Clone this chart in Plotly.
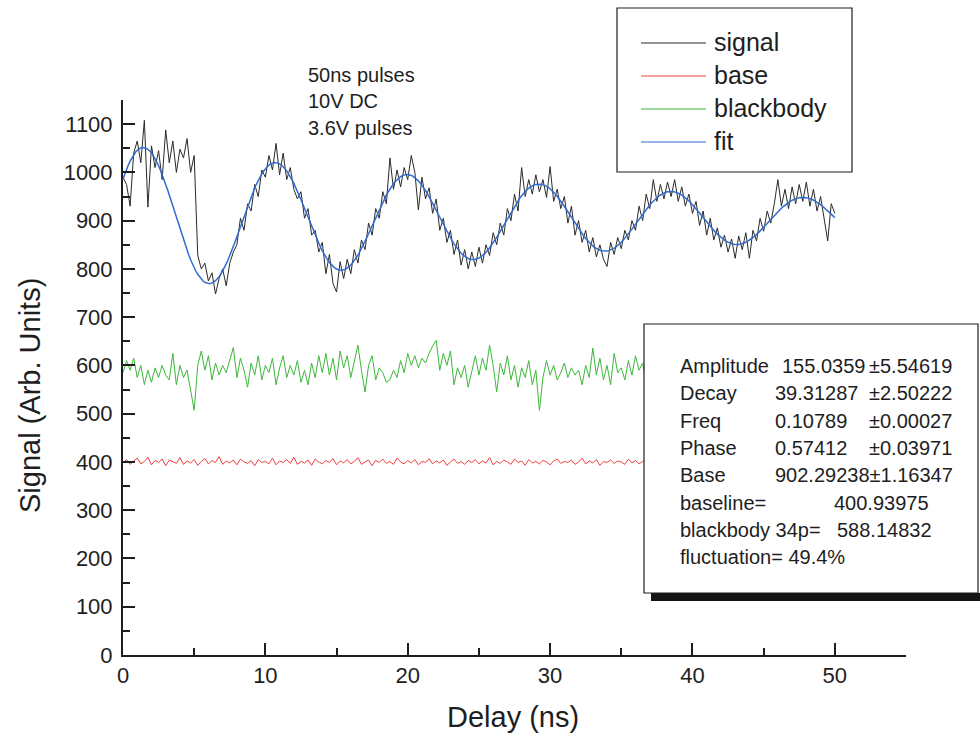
import numpy as np
import plotly.graph_objects as go

# ---- measured traces (sample spacing 0.25 ns) ----
STEP_NS = 0.25

signal = [
    990, 975, 930, 1040, 1065, 1020, 1108, 928, 1055, 1010,
    1045, 985, 1088, 1020, 1065, 1000, 1048, 1030, 1070, 1000,
    1035, 828, 800, 812, 775, 792, 748, 780, 800, 765,
    812, 835, 850, 905, 880, 935, 920, 975, 950, 1005,
    990, 1035, 1005, 1060, 995, 1040, 985, 1010, 965, 945,
    960, 905, 925, 870, 880, 835, 855, 790, 830, 770,
    752, 815, 780, 820, 790, 840, 812, 860, 840, 895,
    870, 925, 905, 960, 935, 1030, 965, 1005, 970, 1010,
    985, 1035, 1000, 922, 990, 945, 968, 915, 945, 880,
    905, 855, 880, 830, 860, 808, 840, 800, 835, 805,
    845, 812, 850, 828, 875, 850, 895, 870, 925, 900,
    955, 920, 1010, 950, 985, 955, 995, 960, 985, 948,
    1012, 940, 965, 925, 950, 895, 930, 870, 900, 855,
    880, 835, 865, 825, 850, 820, 805, 855, 830, 865,
    842, 880, 860, 900, 880, 930, 900, 955, 925, 985,
    940, 975, 945, 980, 950, 985, 940, 970, 930, 955,
    915, 940, 890, 920, 870, 905, 860, 885, 845, 870,
    835, 862, 822, 868, 840, 875, 822, 880, 858, 905,
    878, 920, 895, 935, 985, 930, 965, 925, 970, 935,
    975, 940, 980, 930, 965, 920, 950, 905, 858, 935,
    915,
]

base = [
    398, 405, 395, 402, 408, 396, 401, 410, 394, 403, 399, 406, 392, 404, 400, 397, 409, 395, 402, 398,
    405, 393, 401, 407, 396, 403, 399, 411, 395, 402, 398, 404, 394, 406, 400, 397, 403, 392, 405, 399,
    401, 396, 408, 394, 402, 399, 405, 397, 410, 395, 401, 398, 404, 393, 406, 400, 396, 403, 399, 407,
    394, 402, 398, 405, 396, 401, 409, 395, 400, 404, 392, 403, 399, 406, 397, 401, 395, 408, 400, 396,
    403, 398, 405, 394, 401, 399, 407, 396, 402, 398, 404, 393, 400, 406, 397, 401, 395, 403, 399, 405,
    396, 402, 398, 409, 394, 401, 397, 404, 400, 395, 406, 399, 402, 393, 405, 398, 401, 396, 403, 400,
    394, 402, 406, 397, 401, 399, 404, 395, 400, 408, 396, 402, 398, 405, 393, 401, 399, 404, 397, 402,
    400, 395, 406, 398, 403, 396, 401, 405, 394, 402, 399, 404, 397,
]

blackbody = [
    585, 610, 590, 615, 575, 600, 560, 590, 565, 595, 575, 600, 580, 570, 625, 560, 600, 575, 590, 545,
    507, 600, 630, 590, 620, 570, 605, 580, 600, 585, 610, 637, 575, 615, 590, 555, 605, 580, 620, 570,
    600, 585, 615, 560, 595, 620, 575, 600, 580, 610, 565, 590, 560, 605, 575, 620, 585, 625, 580, 615,
    570, 630, 595, 620, 575, 610, 642, 590, 545, 600, 620, 570, 595, 585, 565, 570, 590, 575, 610, 585,
    625, 600, 620, 595, 615, 605, 625, 640, 652, 590, 625, 600, 630, 560, 595, 575, 600, 555, 590, 620,
    580, 615, 590, 642, 600, 545, 605, 580, 620, 570, 600, 555, 595, 575, 610, 560, 590, 507, 575, 610,
    580, 600, 570, 585, 605, 575, 595, 580, 590, 560, 600, 575, 636, 580, 615, 570, 600, 560, 625, 585,
    595, 570, 610, 580, 620, 590, 605, 565, 600, 580, 615, 590, 600,
]

# ---- fit results (damped sine) ----
AMPLITUDE = 155.0359
DECAY = 39.31287
FREQ = 0.10789
PHASE = 0.57412
BASE_LEVEL = 902.29238
BASELINE = 400.93975
BLACKBODY_34P = 588.14832

stats_rows = [
    ("Amplitude", "155.0359", "±5.54619"),
    ("Decay", "39.31287", "±2.50222"),
    ("Freq", "0.10789", "±0.00027"),
    ("Phase", "0.57412", "±0.03971"),
    ("Base", "902.29238±1.16347", ""),
]
extra_rows = [
    ("baseline=", "400.93975"),
    ("blackbody 34p=", "588.14832"),
    ("fluctuation= 49.4%", ""),
]
note_lines = ["50ns pulses", "10V DC", "3.6V pulses"]
legend_names = ["signal", "base", "blackbody", "fit"]

t_sig = np.arange(len(signal)) * STEP_NS
t_base = np.arange(len(base)) * STEP_NS
t_bb = np.arange(len(blackbody)) * STEP_NS
t_fit = np.linspace(0, 50, 401)
fit = BASE_LEVEL + AMPLITUDE * np.exp(-t_fit / DECAY) * np.sin(2 * np.pi * FREQ * t_fit + PHASE)

COL_SIG = "#2a2a2a"
COL_BASE = "#f0403c"
COL_BB = "#3cb83a"
COL_FIT = "#2f6bd0"
FONT = "Liberation Sans, Arial, sans-serif"
INK = "#1e1e1e"

fig = go.Figure()
fig.add_trace(go.Scatter(x=t_base, y=base, mode="lines", name="base",
                         line=dict(color=COL_BASE, width=1)))
fig.add_trace(go.Scatter(x=t_bb, y=blackbody, mode="lines", name="blackbody",
                         line=dict(color=COL_BB, width=1)))
fig.add_trace(go.Scatter(x=t_sig, y=signal, mode="lines", name="signal",
                         line=dict(color=COL_SIG, width=1)))
fig.add_trace(go.Scatter(x=t_fit, y=fit, mode="lines", name="fit",
                         line=dict(color=COL_FIT, width=1.5)))

# page geometry (pixels) of the plotting area
L, R, T, B = 123, 906, 100, 655
W, H = 980, 737


def px(x):
    return (x - L) / (R - L)


def py(y):
    return (B - y) / (B - T)


shapes = []
annotations = []


def label(text, x, y, size, **kw):
    annotations.append(dict(text=text, xref="paper", yref="paper", x=px(x), y=py(y),
                            xanchor=kw.pop("xanchor", "left"), yanchor="middle", showarrow=False,
                            font=dict(family=FONT, size=size, color=INK), **kw))


# legend box
shapes.append(dict(type="rect", xref="paper", yref="paper", layer="above",
                   x0=px(617), x1=px(852), y0=py(172), y1=py(8),
                   line=dict(color=INK, width=1.2), fillcolor="white"))
leg_cols = [COL_SIG, COL_BASE, COL_BB, COL_FIT]
for i, (name, col) in enumerate(zip(legend_names, leg_cols)):
    yy = 43 + i * 33
    shapes.append(dict(type="line", xref="paper", yref="paper", layer="above",
                       x0=px(641), x1=px(706), y0=py(yy), y1=py(yy),
                       line=dict(color=col, width=1.2)))
    label(name, 712, yy - 1, 25)

# pulse notes
for i, line in enumerate(note_lines):
    label(line, 306, 75 + i * 26.5, 20)

# fit-result box with drop shadow
shapes.append(dict(type="rect", xref="paper", yref="paper", layer="above",
                   x0=px(651), x1=px(990), y0=py(601), y1=py(593),
                   line=dict(width=0), fillcolor="#151515"))
shapes.append(dict(type="rect", xref="paper", yref="paper", layer="above",
                   x0=px(644), x1=px(978), y0=py(593), y1=py(324),
                   line=dict(color=INK, width=1.2), fillcolor="white"))

fs = 20
row_y = 366
for lab, val, err in stats_rows:
    label(lab, 678, row_y, fs)
    label(val, 780 if lab == "Amplitude" else 773, row_y, fs)
    if err:
        label(err, 867, row_y, fs)
    row_y += 27.3
for (lab, val), vx in zip(extra_rows, [832, 835, 0]):
    label(lab, 678, row_y, fs)
    if val:
        label(val, vx, row_y, fs)
    row_y += 27.3

# axis titles
label("Signal (Arb. Units)", 30, 396, 29, xanchor="center", textangle=-90)
label("Delay (ns)", 513, 717, 29, xanchor="center")

axis_common = dict(
    showline=True, linecolor=INK, linewidth=2, mirror=False,
    showgrid=False, zeroline=False, automargin=False,
    ticks="inside", ticklen=12, tickwidth=1.5, tickcolor=INK,
    tickfont=dict(family=FONT, size=22, color=INK),
)

fig.update_layout(
    width=W, height=H,
    margin=dict(l=L, r=W - R, t=T, b=H - B),
    paper_bgcolor="white", plot_bgcolor="white",
    showlegend=False,
    font=dict(family=FONT, color=INK),
    xaxis=dict(range=[0, 55], tick0=0, dtick=10,
               minor=dict(ticks="inside", dtick=5, ticklen=7, tickwidth=1.5, tickcolor=INK),
               **axis_common),
    yaxis=dict(range=[0, 1150], tick0=0, dtick=100, ticklabelstandoff=4,
               minor=dict(ticks="inside", dtick=50, ticklen=7, tickwidth=1.5, tickcolor=INK),
               **axis_common),
    shapes=shapes,
    annotations=annotations,
)

fig.write_html("out.html")
